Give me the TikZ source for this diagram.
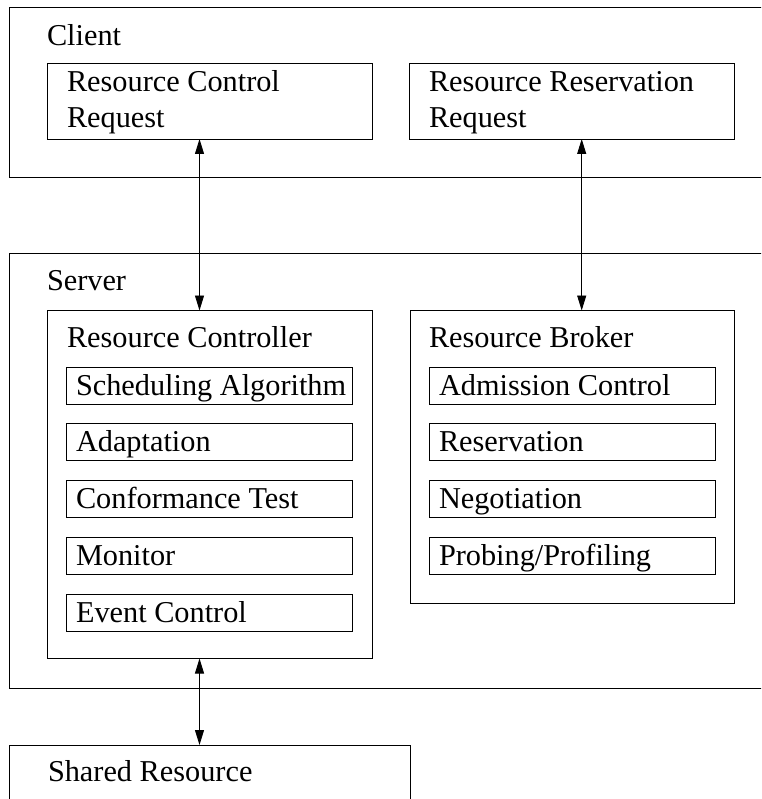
\documentclass[tikz,border=0pt]{standalone}
\usepackage{fontspec}
\setmainfont{Liberation Serif}
\usetikzlibrary{arrows.meta}
\begin{document}
\begin{tikzpicture}[x=1pt,y=-1pt,
  box/.style={draw, line width=0.9pt, inner sep=0pt, outer sep=0pt, anchor=north west},
  part/.style={box, minimum width=286pt, minimum height=37pt},
  lbl/.style={anchor=base west, inner sep=0pt, outer sep=0pt, font=\fontsize{30.3}{36}\selectfont},
  link/.style={draw, line width=0.9pt,
    {Triangle[length=15pt,width=9pt]}-{Triangle[length=15pt,width=9pt]}}]
\clip (0,0) rectangle (761,799);

% Client side
\node[box, minimum width=771pt, minimum height=170pt] (client) at (9,7) {};
\node[lbl] (lclient) at (47,45.5) {Client};
\node[box, minimum width=325pt, minimum height=76pt] (rcr) at (47,63) {};
\node[lbl] (lrcr1) at (67,92) {Resource Control};
\node[lbl] (lrcr2) at (67,128) {Request};
\node[box, minimum width=325pt, minimum height=76pt] (rrr) at (409,63) {};
\node[lbl] (lrrr1) at (429,92) {Resource Reservation};
\node[lbl] (lrrr2) at (429,128) {Request};

% Server side
\node[box, minimum width=771pt, minimum height=435pt] (server) at (9,253) {};
\node[lbl] (lserver) at (47,290.5) {Server};

\node[box, minimum width=325pt, minimum height=348pt] (rc) at (47,310.5) {};
\node[lbl] (lrc) at (67,347.5) {Resource Controller};
\node[part] (sched) at (66,367) {};
\node[lbl] (lsched) at (76,395) {Scheduling Algorithm};
\node[part] (adapt) at (66,423.5) {};
\node[lbl] (ladapt) at (76,451.5) {Adaptation};
\node[part] (conf) at (66,480) {};
\node[lbl] (lconf) at (76,508) {Conformance Test};
\node[part] (mon) at (66,537) {};
\node[lbl] (lmon) at (76,565) {Monitor};
\node[part] (evt) at (66,594) {};
\node[lbl] (levt) at (76,622) {Event Control};

\node[box, minimum width=324pt, minimum height=293pt] (rb) at (410,310.5) {};
\node[lbl] (lrb) at (429,347.5) {Resource Broker};
\node[part] (adm) at (429,367) {};
\node[lbl] (ladm) at (439,395) {Admission Control};
\node[part] (resv) at (429,423.5) {};
\node[lbl] (lresv) at (439,451.5) {Reservation};
\node[part] (neg) at (429,480) {};
\node[lbl] (lneg) at (439,508) {Negotiation};
\node[part] (prob) at (429,537) {};
\node[lbl] (lprob) at (439,565) {Probing/Profiling};

% Shared resource
\node[box, minimum width=401pt, minimum height=80pt] (shared) at (9,745) {};
\node[lbl] (lshared) at (48,781.5) {Shared Resource};

% Two-way links
\coordinate (colA) at (199.5,0);
\coordinate (colB) at (581.7,0);
\draw[link] (rcr.south -| colA) -- (rc.north -| colA);
\draw[link] (rrr.south -| colB) -- (rb.north -| colB);
\draw[link] (rc.south -| colA) -- (shared.north -| colA);
\end{tikzpicture}
\end{document}
